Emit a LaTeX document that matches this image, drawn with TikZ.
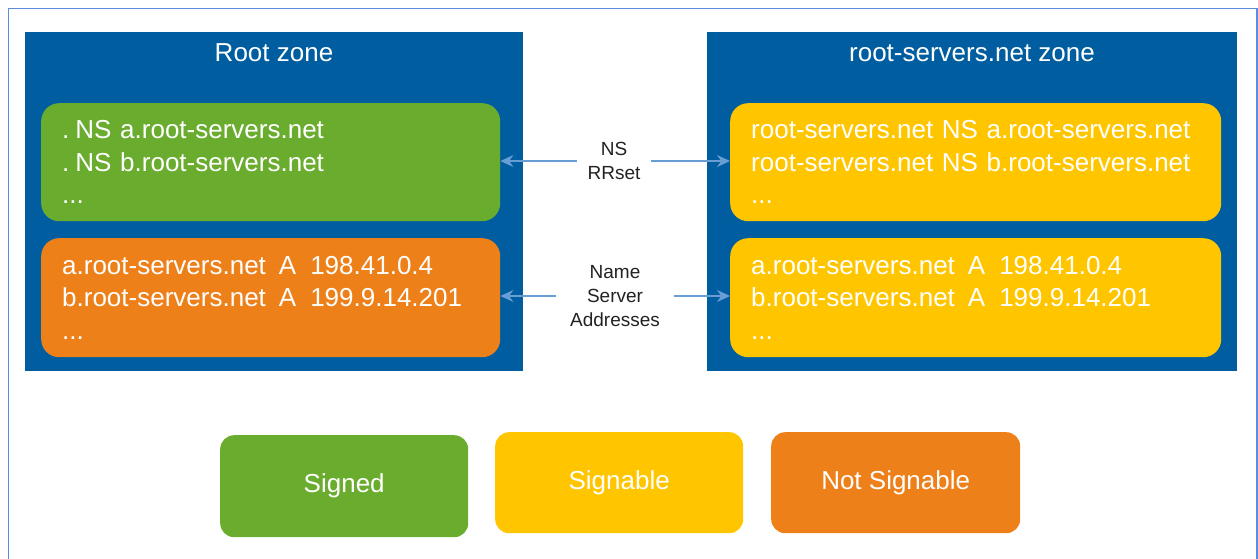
\documentclass[tikz,border=0pt]{standalone}
\usepackage{fontspec}
\setmainfont{Liberation Sans}
\usetikzlibrary{arrows.meta}
\definecolor{zoneblue}{RGB}{0,94,160}
\definecolor{signedgreen}{RGB}{106,172,46}
\definecolor{notsigorange}{RGB}{238,128,26}
\definecolor{signyellow}{RGB}{255,198,0}
\definecolor{arrowblue}{RGB}{104,158,212}
\definecolor{frameblue}{RGB}{92,140,222}
\definecolor{labelgray}{RGB}{34,34,34}
\newcommand{\rrA}{\hspace{13pt}A\hspace{14pt}}
\begin{document}
\begin{tikzpicture}[x=1pt,y=-1pt,
  panel/.style={fill=zoneblue, anchor=north west, inner sep=0pt},
  title/.style={text=white, font=\fontsize{26}{30}\selectfont},
  recbox/.style={rounded corners=18pt, anchor=north west, inner xsep=21pt,
    inner ysep=0pt, align=left, text=white,
    font=\fontsize{26}{32.5}\selectfont},
  legend/.style={rounded corners=14pt, anchor=north west, inner sep=0pt,
    text=white, font=\fontsize{26}{30}\selectfont},
  midlabel/.style={text=labelgray, align=center, inner xsep=10pt,
    font=\fontsize{19}{24}\selectfont},
  link/.style={draw=arrowblue, line width=1.4pt,
    -{Stealth[length=13pt,width=12pt]}}
]
\useasboundingbox (0,0) rectangle (1258,559);
% outer frame, open at the bottom edge
\draw[frameblue, line width=1.5pt] (8.5,570) -- (8.5,8.5) -- (1257,8.5) -- (1257,570);

% zone panels
\node[panel, minimum width=498pt, minimum height=339pt] (rootpanel) at (25,32) {};
\node[panel, minimum width=530pt, minimum height=339pt] (rspanel) at (707,32) {};
\node[title] (roottitle) at (274,53) {Root zone};
\node[title] (rstitle) at (972,53) {root-servers.net zone};

% record sets of the root zone
\node[recbox, fill=signedgreen, text width=417pt, minimum height=118pt] (rootns) at (41,103)
  {.\hspace{6pt}NS a.root-servers.net\\.\hspace{6pt}NS b.root-servers.net\\...};
\node[recbox, fill=notsigorange, text width=417pt, minimum height=119pt] (roota) at (41,238)
  {a.root-servers.net\rrA198.41.0.4\\b.root-servers.net\rrA199.9.14.201\\...};

% record sets of the root-servers.net zone
\node[recbox, fill=signyellow, text width=449pt, minimum height=118pt] (rsns) at (730,103)
  {root-servers.net NS a.root-servers.net\\root-servers.net NS b.root-servers.net\\...};
\node[recbox, fill=signyellow, text width=449pt, minimum height=119pt] (rsa) at (730,238)
  {a.root-servers.net\rrA198.41.0.4\\b.root-servers.net\rrA199.9.14.201\\...};

% labels between the zones
\node[midlabel] (nslabel) at (614,161) {NS\\RRset};
\node[midlabel, inner xsep=14pt] (addrlabel) at (615,296) {Name\\Server\\Addresses};

\draw[link] (nslabel.west) -- (nslabel.west -| rootns.east);
\draw[link] (nslabel.east) -- (nslabel.east -| rsns.west);
\draw[link] (addrlabel.west) -- (addrlabel.west -| roota.east);
\draw[link] (addrlabel.east) -- (addrlabel.east -| rsa.west);

% legend
\node[legend, fill=signedgreen, minimum width=248pt, minimum height=102pt] (lgsigned) at (220,435) {Signed};
\node[legend, fill=signyellow, minimum width=248pt, minimum height=101pt] (lgsignable) at (495,432) {Signable};
\node[legend, fill=notsigorange, minimum width=249pt, minimum height=101pt] (lgnotsig) at (771,432) {Not Signable};
\end{tikzpicture}
\end{document}
